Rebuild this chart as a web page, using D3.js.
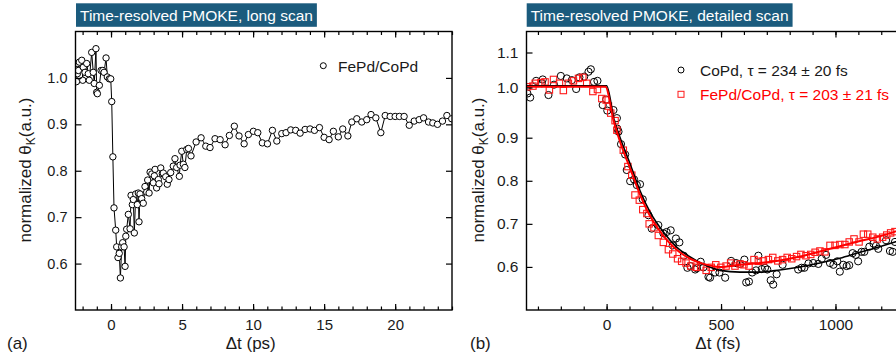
<!DOCTYPE html>
<html><head><meta charset="utf-8">
<script src="https://cdn.jsdelivr.net/npm/d3@7"></script>
<style>
body{margin:0;background:#fff;}
svg{display:block;font-family:Arial,"Liberation Sans",sans-serif;}
</style></head>
<body><svg id="c" width="896" height="358"></svg>
<script>
// ---------- data ----------
const panelTitles = ["Time-resolved PMOKE, long scan", "Time-resolved PMOKE, detailed scan"];
const panelLetters = ["(a)", "(b)"];
const xTitles = ["\u0394t (ps)", "\u0394t (fs)"];

// (a) long scan, FePd/CoPd
const longT = [-2.43,-2.37,-2.35,-2.30,-2.23,-2.06,-1.99,-1.95,-1.83,-1.71,-1.60,-1.53,-1.36,-1.25,-1.18,-1.06,-1.01,-0.96,-0.82,-0.70,-0.58,-0.49,-0.35,-0.26,-0.12,-0.02,
 0.05,0.13,0.21,0.33,0.40,0.49,0.58,0.66,0.75,0.82,0.92,0.99,1.04,1.10,1.22,1.34,1.41,1.50,1.57,1.64,1.74,1.85,1.92,1.97,2.04,2.16,2.27,2.39,2.51,2.58,2.68,2.75,2.87,2.98,
 3.05,3.10,3.21,3.33,3.38,3.50,3.61,3.68,3.85,3.96,4.08,4.20,4.38,4.50,4.62,4.81,4.86,4.98,5.09,5.20,5.33,5.45,5.63,5.99,6.34,6.67,6.97,7.32,7.68,8.03,8.33,8.68,9.01,9.37,9.67,
 10.02,10.33,10.65,11.01,11.36,11.67,12.02,12.32,12.65,13.00,13.31,13.66,14.01,14.32,14.67,15.00,15.35,15.65,16.00,16.31,16.67,16.95,17.30,17.65,18.00,18.30,18.64,18.99,19.30,19.65,
 20.00,20.30,20.63,20.99,21.34,21.69,22.00,22.35,22.65,22.98,23.33,23.64,23.98];
const longV = [0.992,1.009,1.031,1.016,1.034,1.038,0.995,1.023,1.012,1.031,1.009,0.995,1.055,1.012,0.988,1.063,0.969,0.966,0.984,1.016,1.016,1.012,1.043,1.002,0.998,0.998,
 0.949,0.830,0.720,0.672,0.636,0.613,0.622,0.569,0.636,0.645,0.636,0.594,0.659,0.674,0.706,0.675,0.747,0.727,0.738,0.666,0.750,0.727,0.752,0.690,0.750,0.740,0.730,0.766,0.754,0.780,0.752,0.797,0.793,0.774,
 0.789,0.803,0.763,0.781,0.772,0.806,0.794,0.795,0.787,0.771,0.781,0.796,0.810,0.826,0.807,0.788,0.812,0.842,0.814,0.807,0.846,0.848,0.832,0.862,0.871,0.853,0.850,0.869,0.867,0.856,0.876,0.896,0.875,0.858,0.878,
 0.885,0.882,0.860,0.858,0.887,0.864,0.880,0.882,0.888,0.887,0.881,0.889,0.890,0.887,0.893,0.872,0.867,0.885,0.873,0.890,0.875,0.905,0.912,0.905,0.910,0.921,0.914,0.882,0.919,0.917,
 0.917,0.917,0.917,0.898,0.907,0.910,0.914,0.905,0.903,0.900,0.907,0.919,0.912];

// (b) detailed scan, CoPd (black circles)
const copdT = [-346,-334,-308,-283,-279,-254,-230,-200,-174,-152,-133,-119,-98,-79,-69,-55,-40,-17,-2,3,30,45,47,52,63,81,88,103,120,132,146,158,183,197,226,248,262,280,289,303,318,337,353,366,387,394,411,423,445,452,474,493,518,544,566,583,602,610,622,636,653,663,678,692,702,717,728,743,769,837,852,864,882,903,925,940,959,976,991,1008,1019,1034,1049,1060,1075,1089,1099,1114,1126,1148,1166,1177,1187,1221,1238,1250,1260];
const copdV = [0.988,0.980,1.019,1.012,1.023,0.985,1.008,1.033,1.026,1.021,0.997,1.029,1.031,1.045,1.052,1.016,1.019,0.965,0.976,0.954,0.955,0.939,0.918,0.912,0.885,0.861,0.825,0.799,0.803,0.790,0.792,0.757,0.720,0.689,0.697,0.678,0.681,0.685,0.650,0.666,0.657,0.626,0.598,0.602,0.594,0.597,0.612,0.599,0.577,0.575,0.587,0.587,0.575,0.614,0.609,0.607,0.617,0.564,0.566,0.587,0.592,0.626,0.595,0.598,0.594,0.569,0.559,0.583,0.605,0.594,0.598,0.598,0.608,0.609,0.607,0.619,0.628,0.609,0.605,0.613,0.589,0.605,0.602,0.604,0.632,0.628,0.613,0.635,0.635,0.647,0.654,0.649,0.642,0.662,0.637,0.635,0.658];

// (b) detailed scan, FePd/CoPd (red squares)
const fepdT = [-346,-322,-312,-287,-269,-250,-232,-206,-189,-167,-145,-123,-104,-87,-60,-40,-21,-2,8,18,37,45,73,93,110,124,143,158,176,186,207,226,248,270,289,310,328,347,368,391,411,435,457,477,499,522,542,561,583,600,622,644,663,685,707,726,748,769,789,809,830,849,871,892,911,932,954,976,998,1019,1041,1060,1081,1103,1122,1141,1163,1183,1206,1224,1241,1260];
const fepdV = [1.002,1.004,1.012,1.014,1.016,0.995,1.023,1.012,0.994,1.012,1.019,1.026,1.029,1.012,0.992,0.996,0.978,0.975,0.963,0.949,0.934,0.915,0.871,0.833,0.813,0.767,0.755,0.733,0.724,0.700,0.691,0.673,0.657,0.640,0.630,0.619,0.613,0.609,0.602,0.599,0.600,0.592,0.599,0.605,0.599,0.602,0.609,0.602,0.607,0.605,0.602,0.617,0.613,0.614,0.617,0.622,0.614,0.617,0.622,0.619,0.624,0.629,0.626,0.629,0.634,0.637,0.635,0.650,0.650,0.652,0.652,0.658,0.665,0.658,0.676,0.676,0.669,0.665,0.669,0.674,0.679,0.682];

// fit curves
const fitCopdT = [-350,0,33,59,102,146,190,248,306,365,423,496,583,670,757,845,932,1019,1107,1194,1260,1330];
const fitCopdV = [1.005,1.005,0.935,0.900,0.840,0.777,0.727,0.681,0.646,0.623,0.606,0.592,0.588,0.588,0.593,0.600,0.609,0.620,0.634,0.647,0.658,0.668];
const fitFepdT = [-350,-5,30,59,102,146,190,248,306,365,423,496,583,670,757,845,932,1019,1107,1194,1260,1330];
const fitFepdV = [1.002,1.002,0.935,0.890,0.830,0.768,0.718,0.672,0.640,0.619,0.607,0.600,0.605,0.609,0.615,0.624,0.636,0.648,0.660,0.671,0.682,0.692];

const legendA = ["FePd/CoPd"];
const legendB = ["CoPd, \u03c4 = 234 \u00b1 20 fs", "FePd/CoPd, \u03c4 = 203 \u00b1 21 fs"];

const ticksA_x = [0,5,10,15,20];
const ticksA_y = [0.6,0.7,0.8,0.9,1.0];
const ticksB_x = [0,500,1000];
const ticksB_y = [0.6,0.7,0.8,0.9,1.0,1.1];

// ---------- drawing ----------
const svg = d3.select("#c");
const titleFill = "#1b5b7d";

const A = {x0:75.5, x1:452, y0:31.5, y1:310};
const B = {x0:526.5, x1:911, y0:31.5, y1:310};

const xa = d3.scaleLinear().domain([-2.5,24]).range([A.x0,A.x1]);
const ya = d3.scaleLinear().domain([0.5,1.1]).range([A.y1,A.y0]);
const xb = d3.scaleLinear().domain([-350,1330]).range([B.x0,B.x1]);
const yb = d3.scaleLinear().domain([0.5,0.9,1.0,1.16]).range([B.y1,137.7,87.5,B.y0]);

function frameAxes(P, xs, ys, xt, yt, xminor, tickFs, yFs){
  const g = svg.append("g");
  const fmt1 = d3.format(".1f");
  // minor ticks bottom/top
  g.append("g").attr("transform",`translate(0,${P.y1})`)
    .call(d3.axisBottom(xs).tickValues(xminor).tickSize(-3.5).tickFormat(""));
  g.append("g").attr("transform",`translate(0,${P.y0})`)
    .call(d3.axisTop(xs).tickValues(xminor).tickSize(-3.5).tickFormat(""));
  // major bottom
  g.append("g").attr("class","xb").attr("transform",`translate(0,${P.y1})`)
    .call(d3.axisBottom(xs).tickValues(xt).tickSize(-6).tickPadding(9).tickFormat(d3.format("d")));
  g.append("g").attr("transform",`translate(0,${P.y0})`)
    .call(d3.axisTop(xs).tickValues(xt).tickSize(-6).tickFormat(""));
  // y left
  g.append("g").attr("class","yl").attr("transform",`translate(${P.x0},0)`)
    .call(d3.axisLeft(ys).tickValues(yt).tickSize(-6).tickPadding(8).tickFormat(fmt1));
  g.append("g").attr("transform",`translate(${P.x1},0)`)
    .call(d3.axisRight(ys).tickValues(yt).tickSize(-6).tickFormat(""));
  g.selectAll(".domain").remove();
  g.selectAll("line").attr("stroke","#000").attr("stroke-width",1.2);
  g.selectAll(".xb text").attr("font-size",tickFs).attr("fill","#1a1a1a").attr("font-family","Arial, 'Liberation Sans', sans-serif");
  g.selectAll(".yl text").attr("font-size",yFs).attr("fill","#1a1a1a").attr("font-family","Arial, 'Liberation Sans', sans-serif");
  svg.append("rect").attr("x",P.x0).attr("y",P.y0).attr("width",P.x1-P.x0).attr("height",P.y1-P.y0)
    .attr("fill","none").attr("stroke","#000").attr("stroke-width",1.4);
}

// clip paths
const defs = svg.append("defs");
defs.append("clipPath").attr("id","clipA").append("rect").attr("x",A.x0).attr("y",A.y0).attr("width",A.x1-A.x0).attr("height",A.y1-A.y0);
defs.append("clipPath").attr("id","clipB").append("rect").attr("x",B.x0).attr("y",B.y0).attr("width",B.x1-B.x0).attr("height",B.y1-B.y0);

// ---- panel a ----
const longData = longT.map((t,i)=>({t, v:longV[i]}));
const gA = svg.append("g").attr("clip-path","url(#clipA)");
gA.append("path").datum(longData)
  .attr("d", d3.line().x(d=>xa(d.t)).y(d=>ya(d.v)))
  .attr("fill","none").attr("stroke","#000").attr("stroke-width",1);
gA.selectAll("circle").data(longData).join("circle")
  .attr("cx",d=>xa(d.t)).attr("cy",d=>ya(d.v)).attr("r",3.2)
  .attr("fill","#fff").attr("stroke","#000").attr("stroke-width",1);
frameAxes(A, xa, ya, ticksA_x, ticksA_y, d3.range(-2,25,1), 15, 14.5);

// ---- panel b ----
const copd = copdT.map((t,i)=>({t, v:copdV[i]}));
const fepd = fepdT.map((t,i)=>({t, v:fepdV[i]}));
const fitC = fitCopdT.map((t,i)=>({t, v:fitCopdV[i]}));
const fitF = fitFepdT.map((t,i)=>({t, v:fitFepdV[i]}));
const gB = svg.append("g").attr("clip-path","url(#clipB)");
gB.selectAll("circle").data(copd).join("circle")
  .attr("cx",d=>xb(d.t)).attr("cy",d=>yb(d.v)).attr("r",3.6)
  .attr("fill","none").attr("stroke","#000").attr("stroke-width",1);
const sq = 6.4;
gB.selectAll("rect.sq").data(fepd).join("rect").attr("class","sq")
  .attr("x",d=>xb(d.t)-sq/2).attr("y",d=>yb(d.v)-sq/2).attr("width",sq).attr("height",sq)
  .attr("fill","none").attr("stroke","#ff1a1a").attr("stroke-width",1.1);
const lineB = d3.line().x(d=>xb(d.t)).y(d=>yb(d.v)).curve(d3.curveMonotoneX);
gB.append("path").datum(fitC).attr("d",lineB).attr("fill","none").attr("stroke","#000").attr("stroke-width",1.6);
gB.append("path").datum(fitF).attr("d",lineB).attr("fill","none").attr("stroke","#ff0000").attr("stroke-width",2);
frameAxes(B, xb, yb, ticksB_x, ticksB_y, d3.range(-300,1301,100), 15.5, 15.5);

// ---- titles ----
function titleBox(x, y, label){
  const t = svg.append("text").attr("x",x+4).attr("y",y+17.5).attr("font-size",15.5).attr("fill","#fff").text(label);
  const w = t.node().getComputedTextLength();
  svg.insert("rect", () => t.node()).attr("x",x).attr("y",y).attr("width",w+8).attr("height",23.5).attr("fill",titleFill);
}
titleBox(76, 3.3, panelTitles[0]);
titleBox(526.7, 3.3, panelTitles[1]);

// ---- axis titles ----
svg.append("text").attr("x",(A.x0+A.x1)/2-13).attr("y",349).attr("text-anchor","middle").attr("font-size",17).attr("fill","#1a1a1a").text(xTitles[0]);
svg.append("text").attr("x",718).attr("y",349).attr("text-anchor","middle").attr("font-size",17).attr("fill","#1a1a1a").text(xTitles[1]);
svg.append("text").attr("x",7).attr("y",349).attr("font-size",17).attr("fill","#1a1a1a").text(panelLetters[0]);
svg.append("text").attr("x",470).attr("y",349).attr("font-size",17).attr("fill","#1a1a1a").text(panelLetters[1]);

function yTitle(x, y){
  const t = svg.append("text").attr("transform",`translate(${x},${y}) rotate(-90)`)
    .attr("text-anchor","middle").attr("font-size",17).attr("fill","#1a1a1a");
  t.append("tspan").text("normalized \u03b8");
  t.append("tspan").attr("font-size",12).attr("dy",4).text("K");
  t.append("tspan").attr("dy",-4).text("(a.u.)");
}
yTitle(31, 170);
yTitle(484, 170);

// ---- legends ----
svg.append("circle").attr("cx",323.3).attr("cy",65.7).attr("r",3).attr("fill","none").attr("stroke","#000");
svg.append("text").attr("x",338).attr("y",71.5).attr("font-size",15.5).attr("fill","#1a1a1a").text(legendA[0]);

svg.append("circle").attr("cx",681).attr("cy",70).attr("r",3).attr("fill","none").attr("stroke","#000");
svg.append("text").attr("x",700).attr("y",75.5).attr("font-size",15.5).attr("fill","#1a1a1a").text(legendB[0]);
svg.append("rect").attr("x",678).attr("y",91.3).attr("width",6).attr("height",6).attr("fill","none").attr("stroke","#ff1a1a");
svg.append("text").attr("x",700).attr("y",100).attr("font-size",15.5).attr("fill","#ff0000").text(legendB[1]);
</script></body></html>
